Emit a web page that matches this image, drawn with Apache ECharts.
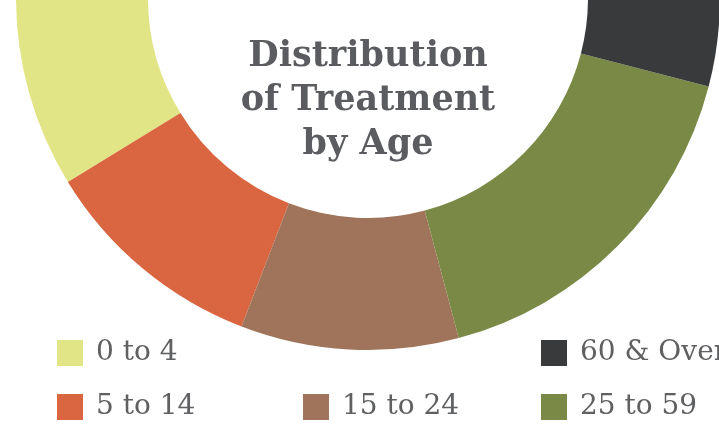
<!DOCTYPE html>
<html>
<head>
<meta charset="utf-8">
<script src="https://cdn.jsdelivr.net/npm/echarts@6/dist/echarts.min.js"></script>
<style>html,body{margin:0;padding:0;background:#fff;}#c{width:719px;height:427px;}</style>
</head>
<body>
<div id="c"></div>
<script>
const categories = ['0 to 4', '5 to 14', '15 to 24', '25 to 59', '60 & Over'];
const values = [17.5, 20.8, 20.0, 33.6, 8.1];
const colors = ['#e2e585', '#d96640', '#a0745a', '#7a8a46', '#383a3c'];
const titleLines = ['Distribution', 'of Treatment', 'by Age'];

const legendPos = {
  '0 to 4': [57, 339],
  '60 & Over': [541, 339],
  '5 to 14': [57, 393],
  '15 to 24': [303, 393],
  '25 to 59': [541, 393]
};

const chart = echarts.init(document.getElementById('c'), null, {renderer: 'canvas'});
const legends = categories.map(name => ({
  data: [name],
  left: legendPos[name][0],
  top: legendPos[name][1],
  padding: 0,
  icon: 'rect',
  itemWidth: 26,
  itemHeight: 26,
  selectedMode: false,
  textStyle: {fontFamily: 'DejaVu Serif', fontSize: 28, color: '#5f6062', padding: [0, 0, 0, 8]}
}));

chart.setOption({
  animation: false,
  color: colors,
  legend: legends,
  graphic: [{
    type: 'text',
    x: 368,
    y: 35,
    style: {
      text: titleLines.join('\n'),
      textAlign: 'center',
      textVerticalAlign: 'top',
      fontFamily: 'DejaVu Serif',
      fontWeight: 'bold',
      fontSize: 35,
      lineHeight: 44,
      fill: '#5a5c5f'
    }
  }],
  series: [{
    type: 'pie',
    center: [368, -2],
    radius: [220, 352],
    startAngle: 180,
    endAngle: 360,
    clockwise: false,
    label: {show: false},
    labelLine: {show: false},
    emphasis: {disabled: true},
    itemStyle: {borderWidth: 0},
    data: categories.map((n, i) => ({name: n, value: values[i]}))
  }]
});
</script>
</body>
</html>
